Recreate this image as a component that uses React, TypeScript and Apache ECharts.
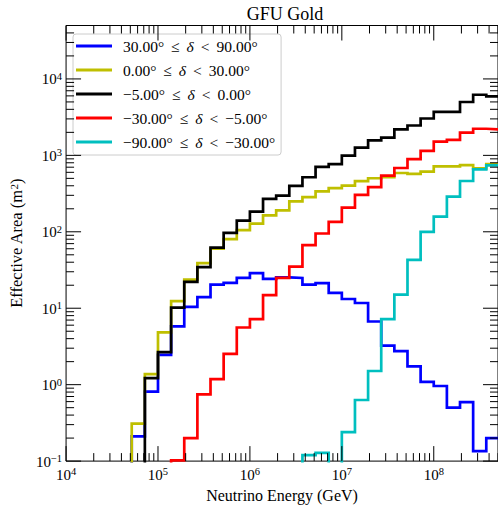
import React, { useEffect, useRef } from 'react';
import * as echarts from 'echarts';

// Histogram binning: 7 log-spaced bins per decade; bin k spans 10^(k/7)..10^((k+1)/7) GeV
const BINS_PER_DECADE = 7;
const FIRST_BIN = 33;

// Effective area (m^2) per bin, bins 33..60 (null = empty bin)
const SERIES_NAMES = [
  '30.00° ≤ δ < 90.00°',
  '0.00° ≤ δ < 30.00°',
  '−5.00° ≤ δ < 0.00°',
  '−30.00° ≤ δ < −5.00°',
  '−90.00° ≤ δ < −30.00°',
];
const SERIES_COLORS = ['#0000ff', '#bfbf00', '#000000', '#ff0000', '#00bfbf'];

const DEC_30_90 = [0.21, 0.81, 2.45, 5.8, 10.4, 14, 20.4, 21.5, 24.9, 28.8, 24.2, 25.4, 24.9, 20.4,
  21.3, 15.9, 13.2, 11.7, 6.7, 3.25, 2.74, 1.74, 1.09, 0.96, 0.5, 0.59, 0.135, 0.2];
const DEC_0_30 = [0.31, 1.37, 4.83, 12.4, 23.7, 39, 60, 80, 105, 128, 164, 191, 250, 285,
  337, 372, 403, 459, 502, 517, 588, 571, 611, 718, 718, 746, 676, 769];
const DEC_M5_0 = [null, 1.22, 2.66, 10.2, 22.1, 34.6, 62, 97, 140, 184, 270, 298, 398, 517,
  705, 769, 995, 1265, 1574, 1706, 2185, 2460, 3034, 3706, 3706, 4993, 6210, 5900];
const DEC_M30_M5 = [null, null, null, 0.102, 0.2, 0.745, 1.18, 2.53, 5.6, 7.2, 14.8, 24.9, 35, 67,
  95, 135, 207, 305, 384, 542, 683, 893, 1143, 1513, 1590, 1980, 2230, 2185];
const DEC_M90_M30 = [null, null, null, null, null, null, null, null, null, null, null, null, null, 0.12,
  0.128, null, 0.24, 0.63, 1.51, 7.2, 15.1, 43, 100, 158, 288, 462, 655, 740];

const SERIES_VALUES = [DEC_30_90, DEC_0_30, DEC_M5_0, DEC_M30_M5, DEC_M90_M30];

const X_MIN = 1e4;
const X_MAX = 5e8;
const Y_MIN = 0.1;
const Y_MAX = 5e4;
const X_DECADES = [4, 5, 6, 7, 8];
const Y_DECADES = [-1, 0, 1, 2, 3, 4];

const FONT = '"Liberation Serif", "DejaVu Serif", serif';

function stepPoints(vals: (number | null)[]) {
  const FLOOR = -6;
  const pts: number[][] = [];
  let prev = FLOOR;
  for (let i = 0; i < vals.length; i++) {
    const x0 = (FIRST_BIN + i) / BINS_PER_DECADE;
    const x1 = (FIRST_BIN + i + 1) / BINS_PER_DECADE;
    const v = vals[i];
    const y = v == null ? FLOOR : Math.log10(v);
    pts.push([x0, prev], [x0, y], [x1, y]);
    prev = y;
  }
  pts.push([(FIRST_BIN + vals.length) / BINS_PER_DECADE, FLOOR]);
  return pts;
}

function logTicks(decades: number[], maxLog: number) {
  const out: number[][] = [];
  decades.forEach((n) => {
    for (let m = 1; m <= 9; m++) {
      const v = n + Math.log10(m);
      if (v <= maxLog + 1e-9) out.push([v, m === 1 ? 1 : 0]);
    }
  });
  return out;
}

const supLabel = (v: number) => {
  if (Math.abs(v - Math.round(v)) > 1e-6) return '';
  const e = Math.round(v);
  return `{b|10}{s|${e < 0 ? '−' + Math.abs(e) : e}}`;
};

const labelRich = {
  b: { fontFamily: FONT, fontSize: 15, color: '#000', lineHeight: 16, padding: [2, 0, 0, 0], verticalAlign: 'bottom' },
  s: { fontFamily: FONT, fontSize: 10.5, color: '#000', lineHeight: 10, verticalAlign: 'top' },
};

export default function App() {
  const ref = useRef<HTMLDivElement>(null);
  useEffect(() => {
    if (!ref.current) return;
    const chart = echarts.init(ref.current, undefined, { renderer: 'svg' });
    const xMaxLog = Math.log10(X_MAX);
    const yMaxLog = Math.log10(Y_MAX);
    const yMinLog = Math.log10(Y_MIN);
    const xMinLog = Math.log10(X_MIN);

    const lineSeries = SERIES_NAMES.map((name, i) => ({
      name,
      type: 'line',
      data: stepPoints(SERIES_VALUES[i]),
      symbol: 'none',
      showSymbol: false,
      color: SERIES_COLORS[i],
      lineStyle: { color: SERIES_COLORS[i], width: 2.7, join: 'miter' },
      clip: true,
      z: 3 + i,
      silent: true,
    }));

    const xTickSeries = {
      type: 'custom',
      silent: true,
      clip: false,
      z: 20,
      data: logTicks(X_DECADES, xMaxLog),
      renderItem: (params: any, api: any) => {
        const cs = params.coordSys;
        const x = api.coord([api.value(0), yMinLog])[0];
        const len = api.value(1) === 1 ? 15 : 8;
        const st = { stroke: '#000', lineWidth: 1 };
        return {
          type: 'group',
          children: [
            { type: 'line', shape: { x1: x, y1: cs.y + cs.height, x2: x, y2: cs.y + cs.height - len }, style: st },
            { type: 'line', shape: { x1: x, y1: cs.y, x2: x, y2: cs.y + len }, style: st },
          ],
        };
      },
    };
    const yTickSeries = {
      type: 'custom',
      silent: true,
      clip: false,
      z: 20,
      data: logTicks(Y_DECADES, yMaxLog).map((d) => [xMinLog, d[0], d[1]]),
      encode: { x: 0, y: 1 },
      renderItem: (params: any, api: any) => {
        const cs = params.coordSys;
        const y = api.coord([xMinLog, api.value(1)])[1];
        const len = api.value(2) === 1 ? 15 : 8;
        const st = { stroke: '#000', lineWidth: 1 };
        return {
          type: 'group',
          children: [
            { type: 'line', shape: { x1: cs.x, y1: y, x2: cs.x + len, y2: y }, style: st },
            { type: 'line', shape: { x1: cs.x + cs.width, y1: y, x2: cs.x + cs.width - len, y2: y }, style: st },
          ],
        };
      },
    };

    const legendFormatter = (name: string) => {
      const p = name.split(' ');
      return `{a|${p[0]}}{r|${p[1]}}{d|${p[2]}}{r|${p[3]}}{n|${p[4]}}`;
    };
    const lt = { fontFamily: FONT, fontSize: 15.5, color: '#000', lineHeight: 18 };

    chart.setOption({
      animation: false,
      backgroundColor: '#fff',
      grid: { left: 64.4, right: -7.6, top: 25.5, bottom: 43, show: true, borderColor: '#000', borderWidth: 1, backgroundColor: 'transparent' },
      graphic: [
        {
          type: 'text',
          x: 285,
          y: 13.5,
          style: { text: 'GFU Gold', fontFamily: FONT, fontSize: 18, fill: '#000', align: 'center', verticalAlign: 'middle' },
        },
      ],
      legend: {
        orient: 'vertical',
        left: 73,
        top: 34,
        padding: [3, 6, 4, 3],
        itemGap: 6,
        itemWidth: 36,
        itemHeight: 3,
        icon: 'rect',
        selectedMode: false,
        backgroundColor: '#fff',
        borderColor: '#cccccc',
        borderWidth: 1,
        borderRadius: 3,
        data: SERIES_NAMES,
        formatter: legendFormatter,
        textStyle: {
          ...lt,
          rich: {
            a: { ...lt, padding: [0, 0, 0, 6] },
            n: { ...lt },
            r: { ...lt, padding: [0, 7, 0, 7] },
            d: { ...lt, fontStyle: 'italic' },
          },
        },
      },
      xAxis: {
        type: 'value',
        min: xMinLog,
        max: xMaxLog,
        interval: 1,
        axisLine: { show: false },
        axisTick: { show: false },
        splitLine: { show: false },
        axisLabel: { formatter: supLabel, margin: 5, showMaxLabel: false, rich: labelRich },
        name: 'Neutrino Energy (GeV)',
        nameLocation: 'middle',
        nameGap: 24,
        nameTextStyle: { fontFamily: FONT, fontSize: 16, color: '#000' },
      },
      yAxis: {
        type: 'value',
        min: yMinLog,
        max: yMaxLog,
        interval: 1,
        axisLine: { show: false },
        axisTick: { show: false },
        splitLine: { show: false },
        axisLabel: { formatter: supLabel, margin: 4, showMaxLabel: false, rich: labelRich },
        name: 'Effective Area (m{s|2})',
        nameLocation: 'middle',
        nameGap: 34,
        nameTextStyle: {
          fontFamily: FONT,
          fontSize: 16.5,
          color: '#000',
          rich: {
            s: { fontFamily: FONT, fontSize: 11, color: '#000', verticalAlign: 'top', lineHeight: 10 },
          },
        },
      },
      series: [...lineSeries, xTickSeries, yTickSeries],
    });
    return () => chart.dispose();
  }, []);
  return <div ref={ref} style={{ position: 'fixed', left: 0, top: 0, width: 498, height: 508 }} />;
}
